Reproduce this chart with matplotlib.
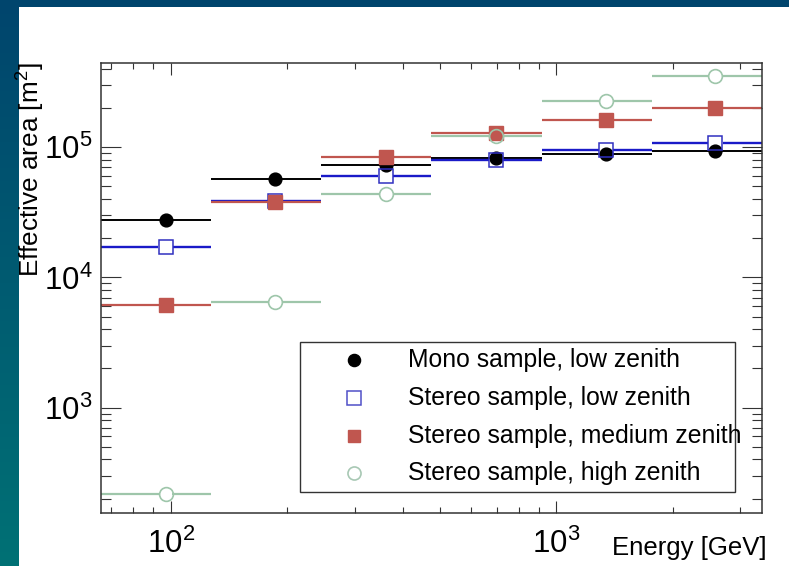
import matplotlib
matplotlib.use("Agg")

import matplotlib.pyplot as plt
import numpy as np
from matplotlib.colors import LinearSegmentedColormap
from matplotlib.patches import Rectangle
from matplotlib.ticker import NullFormatter, LogFormatterMathtext

plt.rcParams["font.family"] = ["Liberation Sans", "DejaVu Sans"]
plt.rcParams["mathtext.fontset"] = "custom"
plt.rcParams["mathtext.rm"] = "Liberation Sans"
plt.rcParams["mathtext.it"] = "Liberation Sans:italic"
plt.rcParams["mathtext.bf"] = "Liberation Sans:bold"

# energy binning [GeV] and mean energy of the events in each bin
bin_edges = [66, 127, 246, 474, 916, 1767, 3412]
mean_energy = [97, 187, 361, 697, 1343, 2582]

# effective area [m^2] per bin
mono_low = [27600, 56900, 72800, 83000, 88600, 93200]
stereo_low = [17100, 38800, 60500, 79500, 94900, 108000]
stereo_medium = [6110, 37900, 83800, 128700, 162500, 200000]
stereo_high = [217, 6530, 44100, 122700, 227500, 351500]

labels = [
    "Mono sample, low zenith",
    "Stereo sample, low zenith",
    "Stereo sample, medium zenith",
    "Stereo sample, high zenith",
]

styles = [
    dict(color="black", marker="o", ms=9.2, mfc="black", mec="black", mew=1.0, lw=1.4, hollow=False),
    dict(color="#1a1ac8", marker="s", ms=10.4, mfc="none", mec="#3030c0", mew=1.1, lw=1.7, hollow=True),
    dict(color="#c0564f", marker="s", ms=9.6, mfc="#c0564f", mec="#c0564f", mew=1.0, lw=1.6, hollow=False),
    dict(color="#9ec6aa", marker="o", ms=9.9, mfc="none", mec="#9ec6aa", mew=1.2, lw=1.6, hollow=True),
]

W, H = 789, 566
fig = plt.figure(figsize=(W / 100, H / 100), dpi=100)

# slide background: gradient strip on the left and top, white panel
bg = fig.add_axes([0, 0, 1, 1], zorder=-10)
cmap = LinearSegmentedColormap.from_list("slide", ["#007175", "#00456d"])
bg.imshow(np.linspace(0, 1, 256).reshape(-1, 1), aspect="auto", cmap=cmap,
          extent=[0, 1, 0, 1], origin="lower")
bg.add_patch(Rectangle((19 / W, 0), 1, 1 - 7 / H, transform=bg.transAxes,
                       facecolor="white", edgecolor="none"))
bg.set_xlim(0, 1)
bg.set_ylim(0, 1)
bg.axis("off")

ax = fig.add_axes([101 / W, 1 - 513 / H, 661 / W, 450 / H])
ax.set_xscale("log")
ax.set_yscale("log")
ax.set_xlim(bin_edges[0], bin_edges[-1])
ax.set_ylim(155, 4.44e5)

for s in ax.spines.values():
    s.set_color("#333333")
    s.set_linewidth(1.1)

ax.tick_params(which="both", direction="in", top=True, right=True, width=0.8, color="#333333")
ax.tick_params(axis="y", which="major", length=14.4, labelsize=22.5, pad=6)
ax.tick_params(axis="y", which="minor", length=7.2)
ax.tick_params(axis="x", which="major", length=8.6, labelsize=22.5, pad=11)
ax.tick_params(axis="x", which="minor", length=4.3)
ax.xaxis.set_major_formatter(LogFormatterMathtext())
ax.yaxis.set_major_formatter(LogFormatterMathtext())
ax.xaxis.set_minor_formatter(NullFormatter())
ax.yaxis.set_minor_formatter(NullFormatter())

to_px = ax.transData.transform
from_px = ax.transData.inverted().transform

series = [mono_low, stereo_low, stereo_medium, stereo_high]
for values, st in zip(series, styles):
    # open markers leave a gap in the bin bar, so the marker stays hollow
    gap = st["ms"] * 100 / 72 / 2 if st["hollow"] else 0.0
    for i, y in enumerate(values):
        xlo, xhi, xc = bin_edges[i], bin_edges[i + 1], mean_energy[i]
        cx, cy = to_px((xc, y))
        left = from_px((cx - gap, cy))[0]
        right = from_px((cx + gap, cy))[0]
        ax.plot([xlo, left], [y, y], color=st["color"], lw=st["lw"], solid_capstyle="butt")
        ax.plot([right, xhi], [y, y], color=st["color"], lw=st["lw"], solid_capstyle="butt")
    ax.plot(mean_energy, values, ls="none", marker=st["marker"], ms=st["ms"],
            mfc=st["mfc"], mec=st["mec"], mew=st["mew"])

# legend box
ax.add_patch(Rectangle((0.301, 0.047), 0.658, 0.333, transform=ax.transAxes,
                       facecolor="white", edgecolor="#333333", lw=1.0, zorder=5))
legend_y = [0.340, 0.256, 0.171, 0.089]
legend_mec = ["black", "#5050c8", "#c0564f", "#a8c8b4"]
for lab, ly, st, mec in zip(labels, legend_y, styles, legend_mec):
    ax.plot([0.383], [ly], transform=ax.transAxes, ls="none", marker=st["marker"],
            ms=st["ms"] * 0.95, mfc=st["mfc"], mec=mec, mew=st["mew"], zorder=6, clip_on=False)
    ax.text(0.4644, ly, lab, transform=ax.transAxes, fontsize=17.8, va="center",
            ha="left", zorder=6)

fig.text(31 / W, 1 - 62 / H, "Effective area [m$^{2}$]", rotation=90, ha="center",
         va="top", fontsize=18.8)
fig.text(767 / W, 1 - 555 / H, "Energy [GeV]", ha="right", va="baseline", fontsize=18.5)

fig.savefig("out.png", dpi=100)
plt.close(fig)
